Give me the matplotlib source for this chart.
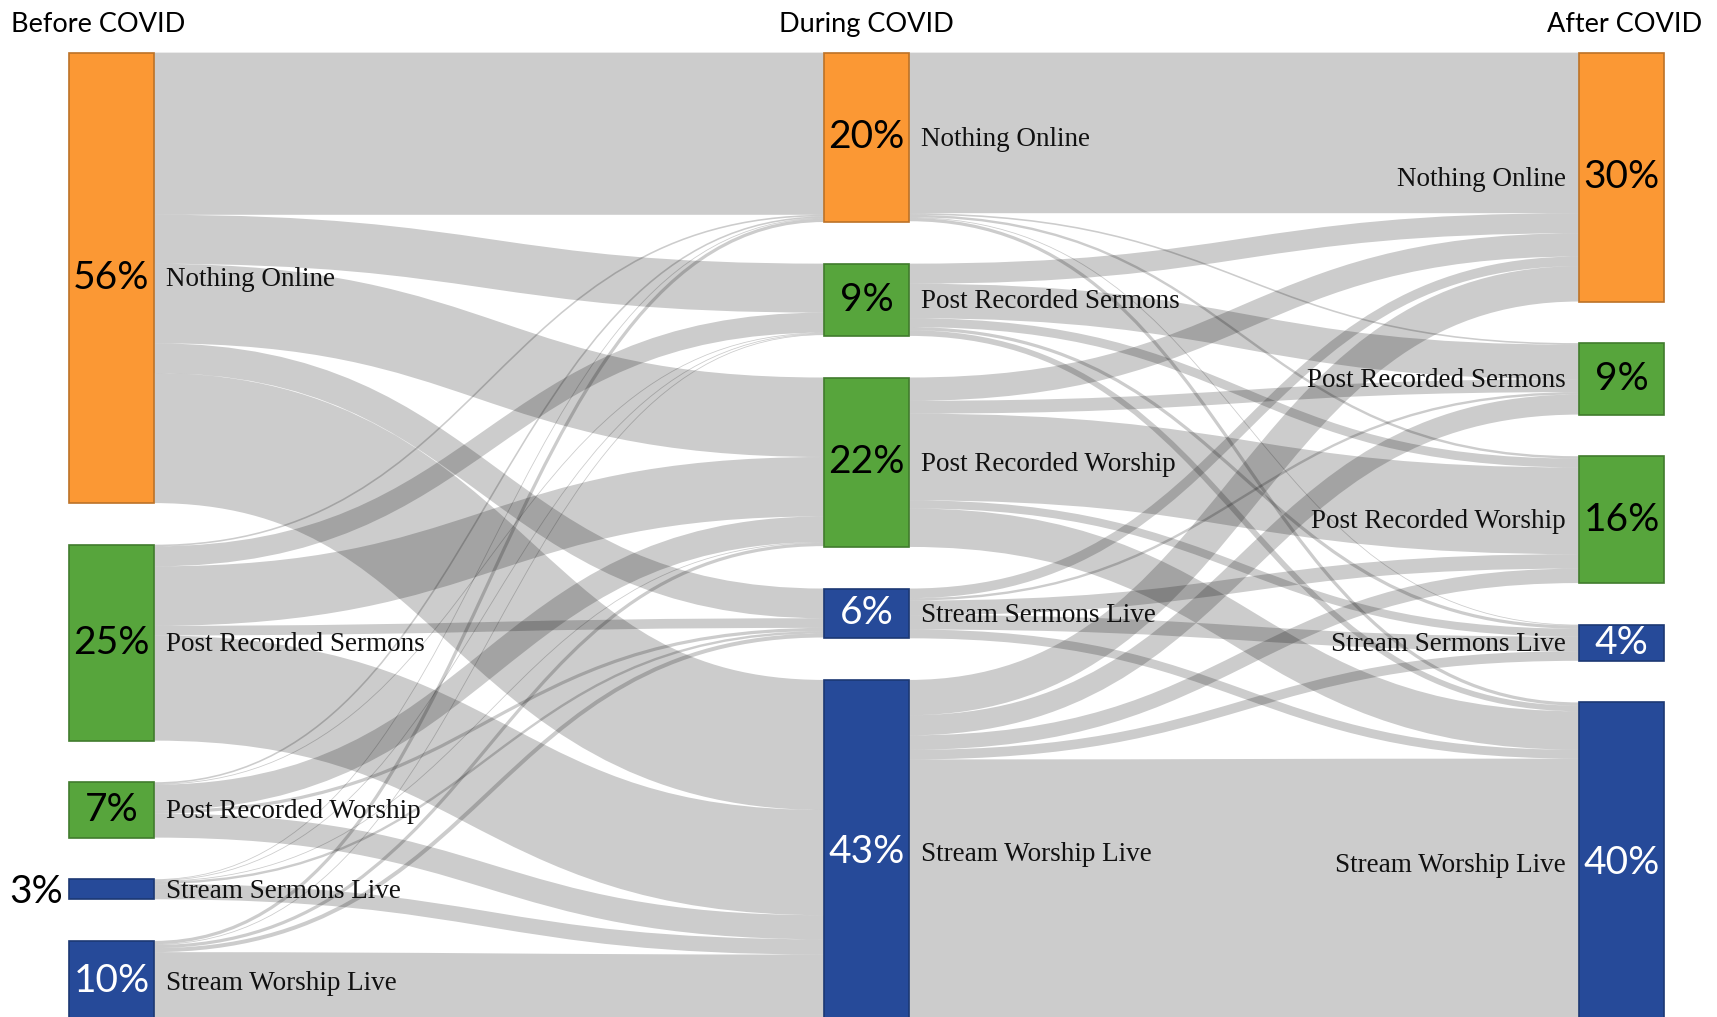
import matplotlib
matplotlib.use("Agg")
import matplotlib.pyplot as plt
from matplotlib.patches import Rectangle, PathPatch
from matplotlib.path import Path

stages = ["Before COVID", "During COVID", "After COVID"]
categories = ["Nothing Online", "Post Recorded Sermons", "Post Recorded Worship",
              "Stream Sermons Live", "Stream Worship Live"]
cat_colors = ["#fb9834", "#57a53c", "#57a53c", "#264a99", "#264a99"]

# percentage labels shown on the nodes
pct_labels = [
    ["56%", "25%", "7%", "3%", "10%"],
    ["20%", "9%", "22%", "6%", "43%"],
    ["30%", "9%", "16%", "4%", "40%"],
]

# flows, % of churches (rows = from, cols = to)
before_to_during = [
    [20.2, 6.1, 9.9, 3.7, 16.2],
    [0.2, 2.5, 7.4, 1.2, 13.1],
    [0.2, 0.1, 3.2, 0.4, 3.0],
    [0.1, 0.1, 0.1, 0.3, 1.9],
    [0.4, 0.1, 0.4, 0.5, 8.6],
]
during_to_after = [
    [20.0, 0.2, 0.3, 0.1, 0.4],
    [2.5, 4.3, 1.1, 0.4, 0.7],
    [2.9, 1.6, 10.8, 1.0, 4.8],
    [1.2, 0.3, 1.8, 1.8, 1.1],
    [4.4, 2.5, 1.8, 1.2, 33.0],
]
flows = [before_to_during, during_to_after]

# layout (pixels)
W, H = 1717, 1017
col_x = [69, 824, 1579]
node_w = 85
top = 52.6
gap = 41.6
k = 8.03  # px per %

n = len(categories)
# node values = max(in, out)
values = []
for c in range(3):
    col = []
    for i in range(n):
        out_v = sum(flows[c][i]) if c < 2 else 0
        in_v = sum(flows[c - 1][j][i] for j in range(n)) if c > 0 else 0
        col.append(max(in_v, out_v))
    values.append(col)

node_y = []
for c in range(3):
    ys = []
    y = top
    for i in range(n):
        ys.append(y)
        y += values[c][i] * k + gap
    node_y.append(ys)

fig = plt.figure(figsize=(W / 100, H / 100), dpi=100)
ax = fig.add_axes([0, 0, 1, 1])
ax.set_xlim(0, W)
ax.set_ylim(H, 0)
ax.axis("off")

# links: sorted by target at the source, by source at the target
for c in range(2):
    out_off = [0.0] * n
    in_off = [0.0] * n
    src_pos = {}
    for i in range(n):
        for j in range(n):
            w = flows[c][i][j] * k
            src_pos[(i, j)] = node_y[c][i] + out_off[i] + w / 2
            out_off[i] += w
    for j in range(n):
        for i in range(n):
            w = flows[c][i][j] * k
            y1 = node_y[c + 1][j] + in_off[j] + w / 2
            in_off[j] += w
            y0 = src_pos[(i, j)]
            x0 = col_x[c] + node_w
            x1 = col_x[c + 1]
            xm = (x0 + x1) / 2
            path = Path([(x0, y0), (xm, y0), (xm, y1), (x1, y1)],
                        [Path.MOVETO, Path.CURVE4, Path.CURVE4, Path.CURVE4])
            ax.add_patch(PathPatch(path, facecolor="none", edgecolor="black",
                                   alpha=0.2, lw=w * 72 / 100, capstyle="butt"))


def darker(hex_c, f=0.75):
    r, g, b = matplotlib.colors.to_rgb(hex_c)
    return (r * f, g * f, b * f)


# nodes and labels
for c in range(3):
    for i in range(n):
        y = node_y[c][i]
        h = values[c][i] * k
        ax.add_patch(Rectangle((col_x[c], y), node_w, h, facecolor=cat_colors[i],
                               edgecolor=darker(cat_colors[i]), lw=1.2))
        cy = y + h / 2
        txt_col = "white" if i >= 3 else "black"
        if h < 25:
            ax.text(col_x[c] - 6, cy + 3, pct_labels[c][i], ha="right", va="center",
                    fontsize=28, family=["Lato", "DejaVu Sans"], color="black")
        else:
            ax.text(col_x[c] + node_w / 2, cy, pct_labels[c][i], ha="center", va="center",
                    fontsize=28, family=["Lato", "DejaVu Sans"], color=txt_col)
        if c < 2:
            ax.text(col_x[c] + node_w + 12, cy + 2, categories[i], ha="left", va="center",
                    fontsize=19.5, family=["Liberation Serif", "DejaVu Serif"], color="#111111")
        else:
            ax.text(col_x[c] - 13, cy + 2, categories[i], ha="right", va="center",
                    fontsize=19.5, family=["Liberation Serif", "DejaVu Serif"], color="#111111")

# column titles
ax.text(11, 32, stages[0], ha="left", va="baseline", fontsize=19.5, family=["Lato", "DejaVu Sans"])
ax.text(col_x[1] + node_w / 2, 32, stages[1], ha="center", va="baseline", fontsize=19.5,
        family=["Lato", "DejaVu Sans"])
ax.text(1702, 32, stages[2], ha="right", va="baseline", fontsize=19.5, family=["Lato", "DejaVu Sans"])

fig.savefig("out.png", dpi=100)
